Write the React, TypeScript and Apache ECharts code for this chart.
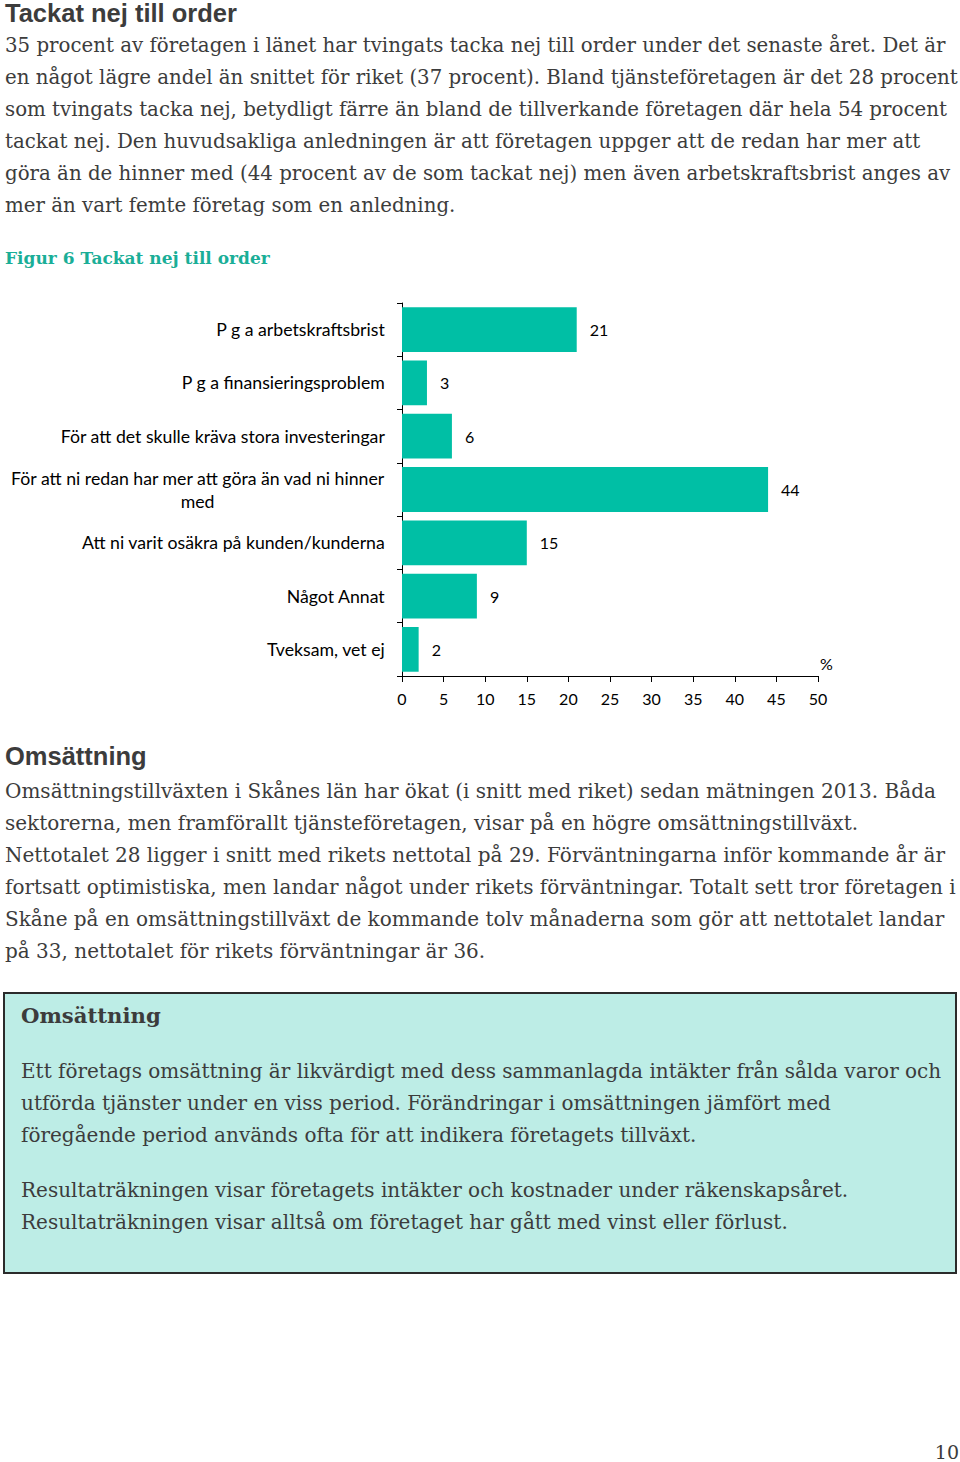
import React, { useEffect, useRef } from 'react';
import * as echarts from 'echarts';

const pageTitle = 'Tackat nej till order';
const introLines = [
  '35 procent av företagen i länet har tvingats tacka nej till order under det senaste året. Det är',
  'en något lägre andel än snittet för riket (37 procent). Bland tjänsteföretagen är det 28 procent',
  'som tvingats tacka nej, betydligt färre än bland de tillverkande företagen där hela 54 procent',
  'tackat nej. Den huvudsakliga anledningen är att företagen uppger att de redan har mer att',
  'göra än de hinner med (44 procent av de som tackat nej) men även arbetskraftsbrist anges av',
  'mer än vart femte företag som en anledning.',
];
const figureTitle = 'Figur 6 Tackat nej till order';
const categories = [
  'P g a arbetskraftsbrist',
  'P g a finansieringsproblem',
  'För att det skulle kräva stora investeringar',
  'För att ni redan har mer att göra än vad ni hinner\nmed',
  'Att ni varit osäkra på kunden/kunderna',
  'Något Annat',
  'Tveksam, vet ej',
];
const values = [21, 3, 6, 44, 15, 9, 2];
const axisMin = 0;
const axisMax = 50;
const axisStep = 5;
const unitLabel = '%';
const sectionTitle = 'Omsättning';
const sectionLines = [
  'Omsättningstillväxten i Skånes län har ökat (i snitt med riket) sedan mätningen 2013. Båda',
  'sektorerna, men framförallt tjänsteföretagen, visar på en högre omsättningstillväxt.',
  'Nettotalet 28 ligger i snitt med rikets nettotal på 29. Förväntningarna inför kommande år är',
  'fortsatt optimistiska, men landar något under rikets förväntningar. Totalt sett tror företagen i',
  'Skåne på en omsättningstillväxt de kommande tolv månaderna som gör att nettotalet landar',
  'på 33, nettotalet för rikets förväntningar är 36.',
];
const boxTitle = 'Omsättning';
const boxLines1 = [
  'Ett företags omsättning är likvärdigt med dess sammanlagda intäkter från sålda varor och',
  'utförda tjänster under en viss period. Förändringar i omsättningen jämfört med',
  'föregående period används ofta för att indikera företagets tillväxt.',
];
const boxLines2 = [
  'Resultaträkningen visar företagets intäkter och kostnader under räkenskapsåret.',
  'Resultaträkningen visar alltså om företaget har gått med vinst eller förlust.',
];
const pageNumber = '10';

const TEXT = '#3c3c3c';
const SERIF = '"DejaVu Serif", serif';
const SANS = '"Liberation Sans", Arial, sans-serif';
const CHART_FONT = 'Lato, sans-serif';

function txt(text: string, x: number, y: number, font: string, fill = TEXT, align = 'left', z = 10) {
  return {
    type: 'text',
    x,
    y,
    z,
    style: {
      text,
      font,
      fill,
      align,
      textAlign: align,
      verticalAlign: 'middle',
      textVerticalAlign: 'middle',
    },
  };
}

export default function App() {
  const ref = useRef<HTMLDivElement>(null);
  useEffect(() => {
    document.body.style.margin = '0';
    const chart = echarts.init(ref.current!, null, { renderer: 'svg' });
    const graphics: any[] = [];
    graphics.push(txt(pageTitle, 5, 13, `bold 25.5px ${SANS}`));
    introLines.forEach((l, i) => graphics.push(txt(l, 5, 45 + i * 32, `19.8px ${SERIF}`)));
    graphics.push(txt(figureTitle, 5, 258, `bold 17px ${SERIF}`, '#1aae97'));
    graphics.push(txt(sectionTitle, 5, 756, `bold 25.5px ${SANS}`));
    sectionLines.forEach((l, i) => graphics.push(txt(l, 5, 791 + i * 32, `20px ${SERIF}`)));
    graphics.push({
      type: 'rect',
      z: 1,
      shape: { x: 4, y: 993, width: 952, height: 280 },
      style: { fill: '#bdede6', stroke: '#2b2b2b', lineWidth: 2 },
    });
    graphics.push(txt(boxTitle, 21, 1015, `bold 21.2px ${SERIF}`));
    boxLines1.forEach((l, i) => graphics.push(txt(l, 21, 1071 + i * 32, `20px ${SERIF}`)));
    boxLines2.forEach((l, i) => graphics.push(txt(l, 21, 1190 + i * 32, `20px ${SERIF}`)));
    graphics.push(txt(pageNumber, 959, 1452, `19px ${SERIF}`, TEXT, 'right'));

    chart.setOption({
      animation: false,
      graphic: { elements: graphics },
      grid: { left: 402, top: 303, width: 416, height: 373, containLabel: false },
      xAxis: {
        type: 'value',
        min: axisMin,
        max: axisMax,
        interval: axisStep,
        name: unitLabel,
        nameLocation: 'end',
        nameGap: 2,
        nameTextStyle: { color: '#000', fontSize: 16, fontFamily: CHART_FONT, align: 'left', verticalAlign: 'bottom', padding: [0, 0, 5, 0] },
        splitLine: { show: false },
        axisLine: { show: true, lineStyle: { color: '#000', width: 1 } },
        axisTick: { show: true, length: 6, lineStyle: { color: '#000' } },
        axisLabel: { margin: 14, fontSize: 16, color: '#000', fontFamily: CHART_FONT },
      },
      yAxis: {
        type: 'category',
        data: categories,
        inverse: true,
        axisLine: { show: true, lineStyle: { color: '#000', width: 1 } },
        axisTick: { show: true, length: 5, lineStyle: { color: '#000' } },
        axisLabel: {
          margin: 17,
          fontSize: 17.7,
          color: '#000',
          fontFamily: CHART_FONT,
          align: 'right',
          formatter: (v: string) => v.split('\n').map((l) => `{c|${l}}`).join('\n'),
          rich: { c: { align: 'center', fontSize: 17.7, color: '#000', fontFamily: CHART_FONT, lineHeight: 23 } },
        },
      },
      series: [
        {
          type: 'bar',
          data: values,
          barCategoryGap: '16%',
          itemStyle: { color: '#00bfa5' },
          label: { show: true, position: 'right', distance: 13, fontSize: 16, color: '#000', fontFamily: CHART_FONT },
        },
      ],
    });
    return () => chart.dispose();
  }, []);
  return <div ref={ref} style={{ width: 960, height: 1462 }} />;
}
